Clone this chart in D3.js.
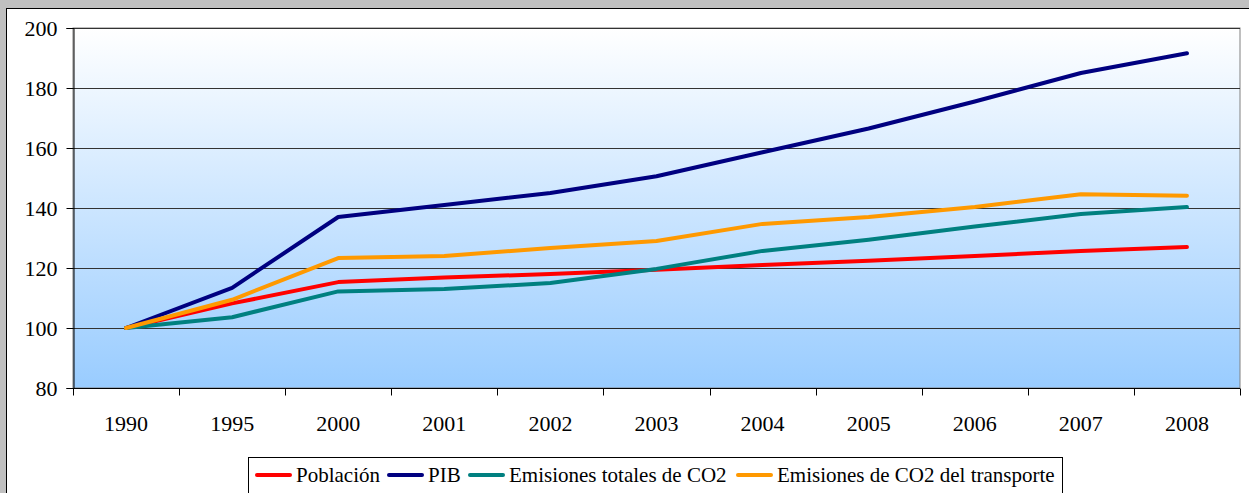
<!DOCTYPE html>
<html>
<head>
<meta charset="utf-8">
<script src="https://cdn.jsdelivr.net/npm/d3@7"></script>
<style>
  html, body { margin: 0; padding: 0; background: #fff; }
  svg { display: block; }
</style>
</head>
<body>
<svg id="chart" width="1249" height="493"></svg>
<script>
const years = ["1990", "1995", "2000", "2001", "2002", "2003", "2004", "2005", "2006", "2007", "2008"];
const poblacion = [100, 108.2, 115.3, 116.8, 118, 119.4, 121, 122.4, 124, 125.7, 127];
const pib = [100, 113.4, 137, 141, 145, 150.6, 158.6, 166.5, 175.5, 185, 191.6];
const emisionesTotales = [100, 103.6, 112.2, 113, 115, 119.7, 125.7, 129.4, 133.8, 138, 140.3];
const emisionesTransporte = [100, 109.4, 123.3, 124, 126.7, 129, 134.7, 137, 140.3, 144.6, 144.1];
const yTicks = [80, 100, 120, 140, 160, 180, 200];

const series = [
  { name: "Población", values: poblacion, color: "#ff0000" },
  { name: "PIB", values: pib, color: "#000080" },
  { name: "Emisiones totales de CO2", values: emisionesTotales, color: "#008080" },
  { name: "Emisiones de CO2 del transporte", values: emisionesTransporte, color: "#ff9900" }
];

const svg = d3.select("#chart");
const width = 1249, height = 493;
const margin = { left: 73, top: 28, right: 1240, bottom: 388 };
const font = "'Liberation Serif', 'Times New Roman', serif";

// gray frame at top / left
svg.append("rect").attr("x", 0).attr("y", 0).attr("width", width).attr("height", 8).attr("fill", "#c0c0c0");
svg.append("rect").attr("x", 0).attr("y", 0).attr("width", 6).attr("height", height).attr("fill", "#c0c0c0");
svg.append("line").attr("x1", 6).attr("x2", width).attr("y1", 8.5).attr("y2", 8.5).attr("stroke", "#000");
svg.append("line").attr("x1", 6.5).attr("x2", 6.5).attr("y1", 8).attr("y2", height).attr("stroke", "#000");

const defs = svg.append("defs");
const gradient = defs.append("linearGradient")
  .attr("id", "plotGradient")
  .attr("x1", "0%").attr("y1", "0%")
  .attr("x2", "0%").attr("y2", "100%");
gradient.append("stop").attr("offset", "0%").attr("stop-color", "#ffffff");
gradient.append("stop").attr("offset", "100%").attr("stop-color", "#99ccff");

const x = d3.scaleBand().domain(years).range([margin.left, margin.right]);
const y = d3.scaleLinear().domain([80, 200]).range([margin.bottom, margin.top]);

// plot background
svg.append("rect")
  .attr("x", margin.left).attr("y", margin.top)
  .attr("width", margin.right - margin.left).attr("height", margin.bottom - margin.top)
  .attr("fill", "url(#plotGradient)")
  .attr("stroke", "#808080");

// gridlines
svg.append("g")
  .selectAll("line")
  .data(yTicks)
  .join("line")
  .attr("x1", margin.left).attr("x2", margin.right)
  .attr("y1", (d) => Math.round(y(d)) + 0.5)
  .attr("y2", (d) => Math.round(y(d)) + 0.5)
  .attr("stroke", (d) => (d === 80 ? "#000" : "#333"))
  .attr("stroke-width", 1);

// y axis
const yAxis = svg.append("g")
  .attr("transform", `translate(${margin.left + 0.5},0)`)
  .call(d3.axisLeft(y).tickValues(yTicks).tickSize(7).tickPadding(9));
yAxis.attr("font-family", null).attr("font-size", null);
yAxis.select(".domain").attr("stroke", "#000");
yAxis.selectAll("text")
  .attr("font-family", font)
  .attr("font-size", 22)
  .attr("fill", "#000");

// x axis, ticks on band edges
const xAxisG = svg.append("g").attr("transform", `translate(0,${margin.bottom + 0.5})`);
xAxisG.append("line")
  .attr("x1", margin.left).attr("x2", margin.right)
  .attr("stroke", "#000");
const edges = years.map((d) => x(d)).concat([margin.right]);
xAxisG.selectAll("line.tick")
  .data(edges)
  .join("line")
  .attr("class", "tick")
  .attr("x1", (d) => Math.round(d) + 0.5).attr("x2", (d) => Math.round(d) + 0.5)
  .attr("y1", 0).attr("y2", 7)
  .attr("stroke", "#000");
xAxisG.selectAll("text")
  .data(years)
  .join("text")
  .attr("x", (d) => x(d) + x.bandwidth() / 2)
  .attr("y", 42)
  .attr("text-anchor", "middle")
  .attr("font-family", font)
  .attr("font-size", 22)
  .text((d) => d);

// lines
const line = d3.line()
  .x((d, i) => x(years[i]) + x.bandwidth() / 2)
  .y((d) => y(d));

svg.append("g")
  .selectAll("path")
  .data(series)
  .join("path")
  .attr("d", (d) => line(d.values))
  .attr("fill", "none")
  .attr("stroke", (d) => d.color)
  .attr("stroke-width", 4)
  .attr("stroke-linejoin", "round")
  .attr("stroke-linecap", "round");

// legend
const legend = svg.append("g");
legend.append("rect")
  .attr("x", 248.5).attr("y", 457.5)
  .attr("width", 814).attr("height", 50)
  .attr("fill", "#fff")
  .attr("stroke", "#000");

const legendX = [255, 387, 468, 736];
const items = legend.selectAll("g.item")
  .data(series)
  .join("g")
  .attr("class", "item")
  .attr("transform", (d, i) => `translate(${legendX[i]},475)`);
items.append("line")
  .attr("x1", 2).attr("x2", 35)
  .attr("stroke", (d) => d.color)
  .attr("stroke-width", 4)
  .attr("stroke-linecap", "round");
items.append("text")
  .attr("x", 41)
  .attr("y", 7)
  .attr("font-family", font)
  .attr("font-size", 21)
  .text((d) => d.name);
</script>
</body>
</html>
